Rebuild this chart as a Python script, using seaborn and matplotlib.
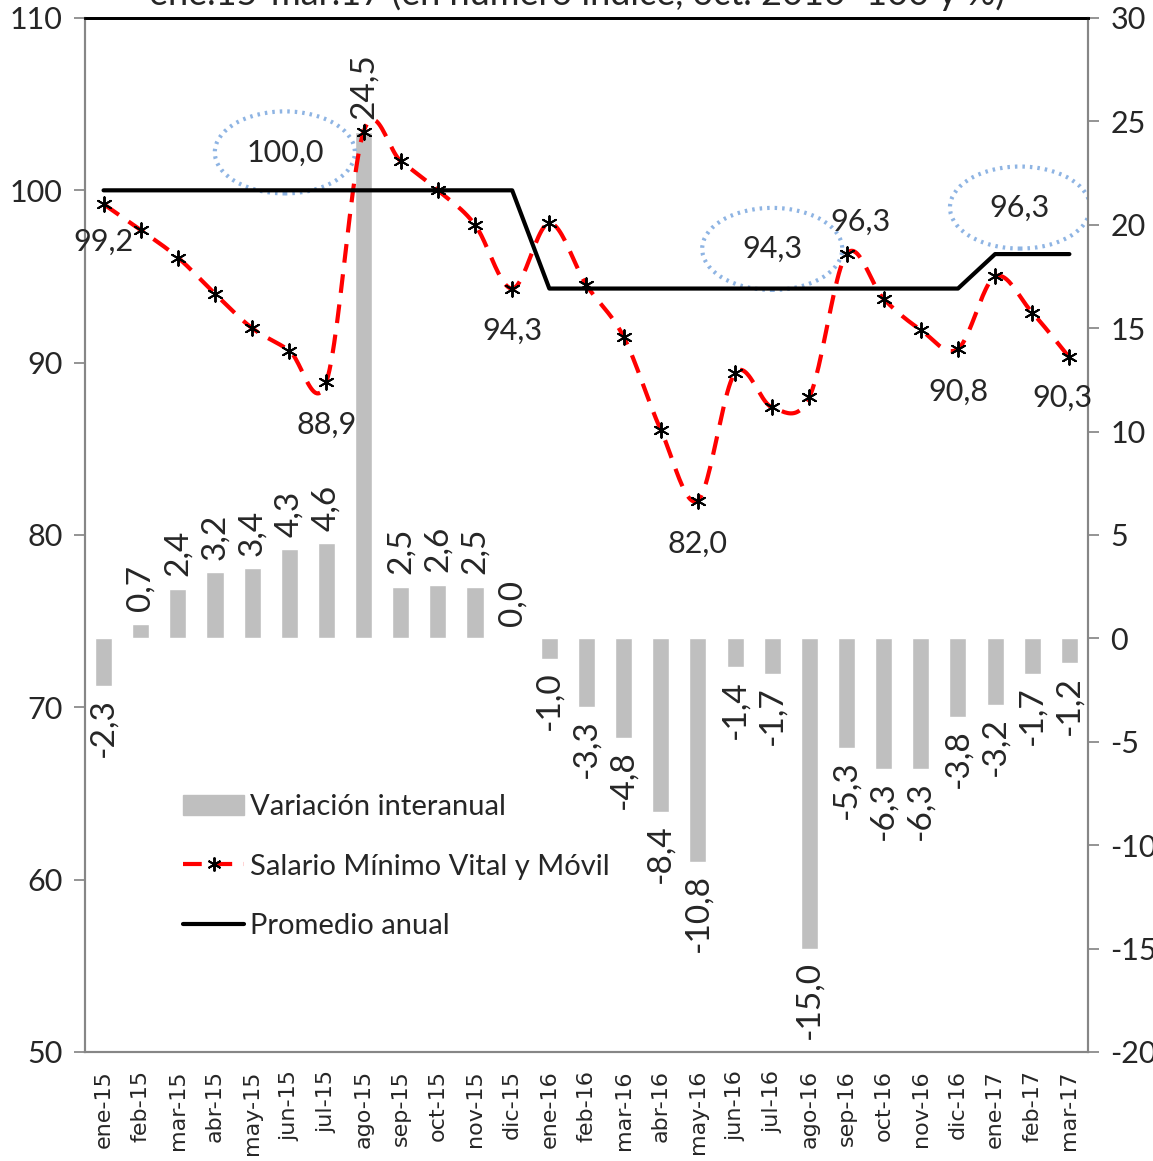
import numpy as np
import pandas as pd
import matplotlib
matplotlib.use("Agg")
import matplotlib.pyplot as plt
import seaborn as sns
from matplotlib.patches import Ellipse, Patch
from matplotlib.lines import Line2D

# datos
meses = ["ene-15", "feb-15", "mar-15", "abr-15", "may-15", "jun-15", "jul-15",
         "ago-15", "sep-15", "oct-15", "nov-15", "dic-15",
         "ene-16", "feb-16", "mar-16", "abr-16", "may-16", "jun-16", "jul-16",
         "ago-16", "sep-16", "oct-16", "nov-16", "dic-16",
         "ene-17", "feb-17", "mar-17"]
salario = [99.2, 97.7, 96.1, 94.0, 92.0, 90.7, 88.9, 103.4, 101.7, 100.0, 98.0, 94.3,
           98.1, 94.5, 91.5, 86.1, 82.0, 89.4, 87.4, 88.0, 96.3, 93.7, 91.9, 90.8,
           95.0, 92.9, 90.3]
promedio = [100.0, 100.0, 100.0, 100.0, 100.0, 100.0, 100.0, 100.0, 100.0, 100.0, 100.0, 100.0,
            94.3, 94.3, 94.3, 94.3, 94.3, 94.3, 94.3, 94.3, 94.3, 94.3, 94.3, 94.3,
            96.3, 96.3, 96.3]
variacion = [-2.3, 0.7, 2.4, 3.2, 3.4, 4.3, 4.6, 24.5, 2.5, 2.6, 2.5, 0.0,
             -1.0, -3.3, -4.8, -8.4, -10.8, -1.4, -1.7, -15.0, -5.3, -6.3, -6.3, -3.8,
             -3.2, -1.7, -1.2]
# etiquetas de la serie (indice, texto, desplazamiento en px)
etiquetas_salario = [(0, "99,2", 0, -38), (6, "88,9", 0, -43), (11, "94,3", 0, -42),
                     (16, "82,0", 0, -43), (20, "96,3", 14, 32), (23, "90,8", 0, -43),
                     (26, "90,3", -7, -40)]
# promedios anuales destacados (texto, x, y)
promedios_txt = [("100,0", 4.88, 102.2), ("94,3", 18.0, 96.6), ("96,3", 24.67, 99.0)]

sns.set_theme(style="white")
plt.rcParams['font.family'] = ['Lato', 'DejaVu Sans']
plt.rcParams['axes.unicode_minus'] = False
FS = 22

df = pd.DataFrame({"mes": meses, "x": np.arange(len(meses)), "salario": salario,
                   "promedio": promedio, "variacion": variacion})


def suavizar(y, n=24):
    # curva suavizada tipo Excel (Bezier con tangentes Catmull-Rom)
    y = np.asarray(y, dtype=float)
    x = np.arange(len(y), dtype=float)
    px, py = [], []
    for i in range(len(y) - 1):
        p0 = (x[max(i - 1, 0)], y[max(i - 1, 0)])
        p1 = (x[i], y[i])
        p2 = (x[i + 1], y[i + 1])
        p3 = (x[min(i + 2, len(y) - 1)], y[min(i + 2, len(y) - 1)])
        c1 = (p1[0] + (p2[0] - p0[0]) / 6, p1[1] + (p2[1] - p0[1]) / 6)
        c2 = (p2[0] - (p3[0] - p1[0]) / 6, p2[1] - (p3[1] - p1[1]) / 6)
        t = np.linspace(0, 1, n, endpoint=(i == len(y) - 2))
        for k in range(2):
            comp = (1 - t) ** 3 * p1[k] + 3 * (1 - t) ** 2 * t * c1[k] + 3 * (1 - t) * t ** 2 * c2[k] + t ** 3 * p2[k]
            (px if k == 0 else py).extend(comp)
    return pd.DataFrame({"x": px, "y": py})


fig = plt.figure(figsize=(11.53, 11.61), dpi=100)
ax = fig.add_axes([0.0737, 0.0939, 0.8699, 0.8906])
ax2 = ax.twinx()
ax.set_zorder(ax2.get_zorder() + 1)
ax.patch.set_visible(False)

# barras: variacion interanual (eje derecho)
sns.barplot(data=df, x="x", y="variacion", color="#bfbfbf", saturation=1,
            width=0.46, ax=ax2, native_scale=True)
for cont in ax2.containers:
    ax2.bar_label(cont, labels=[f"{v:.1f}".replace(".", ",") for v in variacion],
                  rotation=90, padding=9, fontsize=24)

# lineas (eje izquierdo)
curva = suavizar(salario)
sns.lineplot(data=curva, x="x", y="y", color="red", lw=3.0, ax=ax,
             dashes=False, estimator=None, sort=False)
ax.lines[-1].set_dashes((4.5, 2.8))
sns.lineplot(data=df, x="x", y="promedio", color="black", lw=3, ax=ax)
sns.scatterplot(data=df, x="x", y="salario", marker=(6, 2, 0), color="black",
                s=110, linewidth=1.4, ax=ax, zorder=5)

for i, txt, dx, dy in etiquetas_salario:
    ax.annotate(txt, (i, salario[i]), xytext=(dx * 0.72, dy * 0.72),
                textcoords="offset points", ha="center", va="center", fontsize=FS)

for txt, xc, yc in promedios_txt:
    ax.add_patch(Ellipse((xc, yc), 3.77, 4.76, fill=False, ec="#8eb4e3",
                         lw=3, ls=(0, (0.6, 1.2))))
    ax.text(xc, yc, txt, ha="center", va="center", fontsize=FS)

ax.set_xlim(-0.5, len(meses) - 0.5)
ax2.set_xlim(-0.5, len(meses) - 0.5)
ax.set_ylim(50, 110)
ax2.set_ylim(-20, 30)
ax.set_yticks(range(50, 111, 10))
ax2.set_yticks(range(-20, 31, 5))
ax.set_xticks(df["x"])
ax.set_xticklabels(meses, rotation=90, fontsize=16, family="DejaVu Sans")
ax.set_xticks(np.arange(-0.5, len(meses), 1), minor=True)
ax.tick_params(axis="x", which="major", length=0, pad=13)
ax.tick_params(axis="x", which="minor", length=8, color="#868686", direction="out")
ax.tick_params(axis="y", labelsize=FS, length=8, color="#868686", direction="out", pad=8, left=True)
ax2.tick_params(axis="y", labelsize=FS, length=8, color="#868686", direction="out", pad=8, right=True)
ax2.tick_params(axis="x", bottom=False, labelbottom=False)
for a in (ax, ax2):
    a.set_xlabel("")
    a.set_ylabel("")
    for s in ("left", "right", "bottom"):
        a.spines[s].set_color("#868686")
        a.spines[s].set_linewidth(1.5)
    a.spines["top"].set_color("black")
    a.spines["top"].set_linewidth(2)

handles = [Patch(color="#bfbfbf"),
           Line2D([], [], color="red", lw=3.0, dashes=(4.5, 2.8), marker=(6, 2, 0),
                  mec="black", mfc="black", ms=10, mew=1.4),
           Line2D([], [], color="black", lw=3)]
ax.legend(handles, ["Variación interanual", "Salario Mínimo Vital y Móvil", "Promedio anual"],
          loc="upper left", bbox_to_anchor=(183 / 1153, 1 - 794 / 1161),
          bbox_transform=fig.transFigure, frameon=False, fontsize=21,
          handlelength=2.1, handletextpad=0.2, labelspacing=1.15, borderaxespad=0,
          borderpad=0)

fig.text(0.5, 1 - 5 / 1161, "ene.15-mar.17 (en número índice, oct. 2016=100 y %)",
         ha="center", va="baseline", fontsize=26)

fig.savefig("out.png", dpi=100)
